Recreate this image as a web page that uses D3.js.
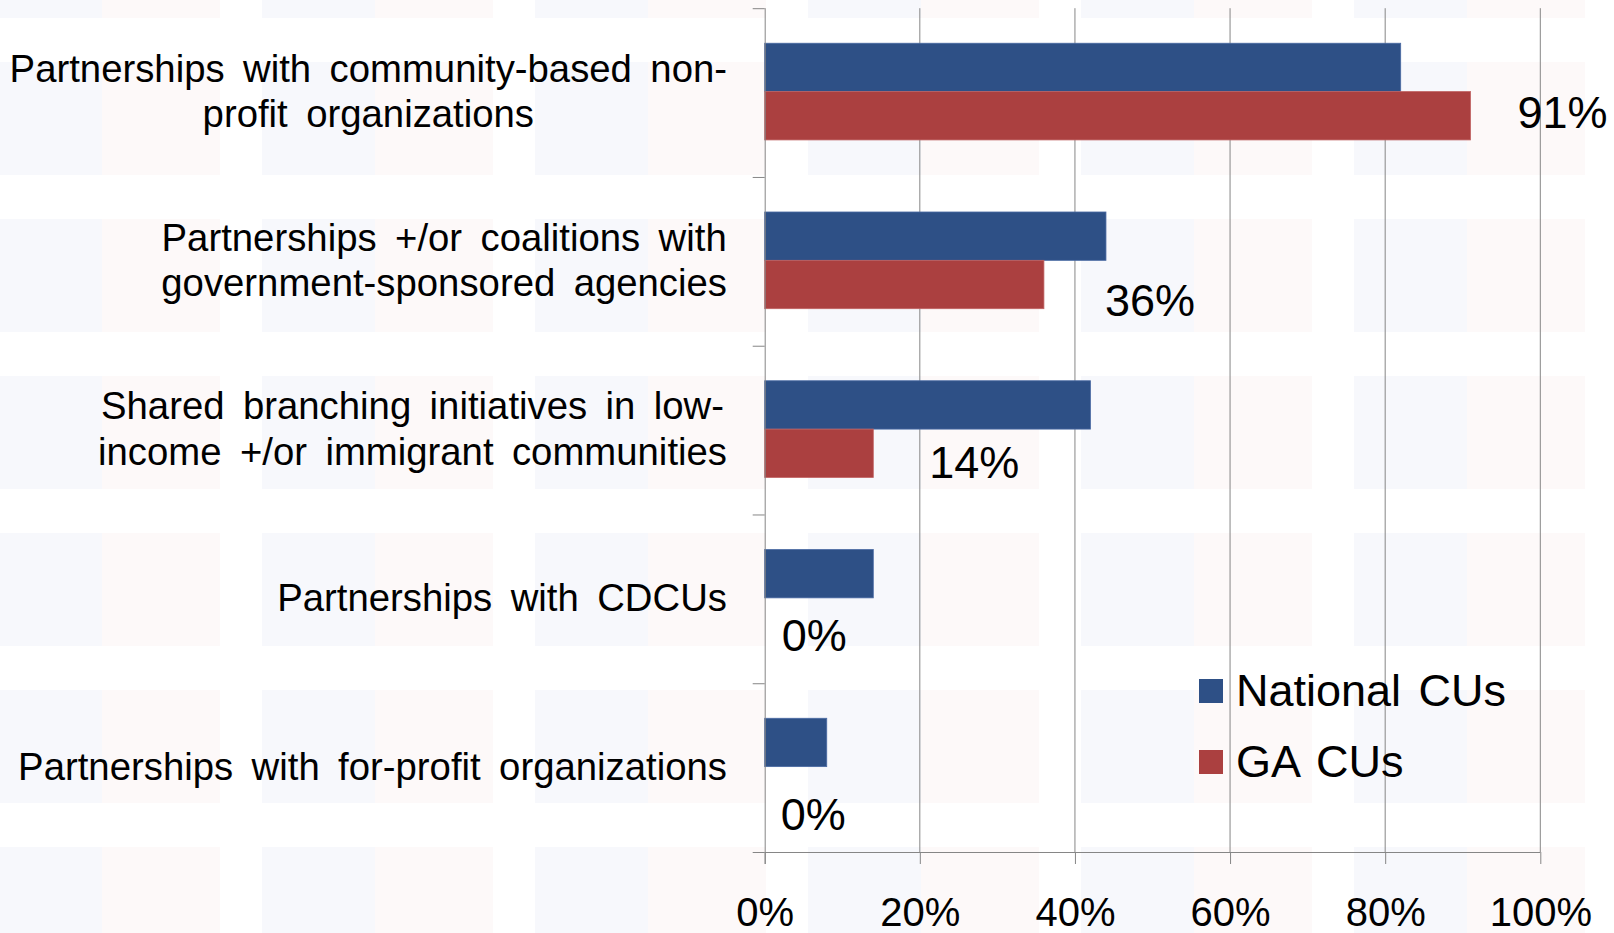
<!DOCTYPE html>
<html>
<head>
<meta charset="utf-8">
<script src="https://cdn.jsdelivr.net/npm/d3@7"></script>
<style>
  html, body { margin: 0; padding: 0; background: #ffffff; }
  svg { display: block; }
  text { font-family: "Liberation Sans", Arial, sans-serif; fill: #000; }
</style>
</head>
<body>
<svg id="chart" width="1614" height="933"></svg>
<script>
// Survey categories (label lines as wrapped on the chart)
const categoryLines = [
  ["Partnerships with community-based non-", "profit organizations"],
  ["Partnerships +/or coalitions with", "government-sponsored agencies"],
  ["Shared branching initiatives in low-", "income +/or immigrant communities"],
  ["Partnerships with CDCUs"],
  ["Partnerships with for-profit organizations"]
];
const categories = categoryLines.map(l => l.join(" "));

// Share of credit unions reporting each activity (%)
const nationalCUs = [82, 44, 42, 14, 8];
const gaCUs = [91, 36, 14, 0, 0];

const seriesNames = ["National CUs", "GA CUs"];
const xTickValues = [0, 20, 40, 60, 80, 100];

// ---- drawing ----
const W = 1614, H = 933;
const colors = { "National CUs": "#2e5086", "GA CUs": "#ab4040" };
const edgeColors = { "National CUs": "#4a6aa3", "GA CUs": "#c06262" };
const axisColor = "#868686";

const svg = d3.select("#chart");

// faint tiled slide backdrop
const defs = svg.append("defs");
const pat = defs.append("pattern")
  .attr("id", "tiles").attr("patternUnits", "userSpaceOnUse")
  .attr("x", -11).attr("y", 62).attr("width", 273).attr("height", 157);
pat.append("rect").attr("x", 0).attr("y", 0).attr("width", 113).attr("height", 113).attr("fill", "#f7f8fc");
pat.append("rect").attr("x", 113).attr("y", 0).attr("width", 118).attr("height", 113).attr("fill", "#fdf9f9");
svg.append("rect").attr("width", W).attr("height", H).attr("fill", "url(#tiles)");

const plot = { left: 764.7, right: 1540.3, top: 8.2, bottom: 852 };

const x = d3.scaleLinear().domain([0, 100]).range([plot.left, plot.right]);
const y = d3.scaleBand().domain(categories)
  .range([plot.top, plot.bottom])
  .paddingInner(0.427).paddingOuter(0.2135);
const ySub = d3.scaleBand().domain(seriesNames).range([0, y.bandwidth()]);
const yEdge = d3.scaleLinear().domain([0, categories.length]).range([plot.top, plot.bottom]);

// vertical gridlines
svg.append("g").selectAll("line")
  .data(xTickValues.filter(v => v > 0))
  .join("line")
  .attr("x1", d => x(d)).attr("x2", d => x(d))
  .attr("y1", plot.top).attr("y2", plot.bottom)
  .attr("stroke", axisColor).attr("stroke-width", 1);

// bars
const rows = categories.map((c, i) => ({
  cat: c,
  values: [
    { series: "National CUs", value: nationalCUs[i] },
    { series: "GA CUs", value: gaCUs[i] }
  ]
}));

const groups = svg.append("g").selectAll("g")
  .data(rows).join("g")
  .attr("transform", d => `translate(0,${y(d.cat) - 1})`);

groups.selectAll("rect")
  .data(d => d.values.filter(v => v.value > 0)).join("rect")
  .attr("x", x(0))
  .attr("y", d => ySub(d.series))
  .attr("width", d => x(d.value) - x(0))
  .attr("height", ySub.bandwidth())
  .attr("fill", d => colors[d.series])
  .attr("stroke", d => edgeColors[d.series])
  .attr("stroke-width", 0.8);

// x axis
const xAxis = d3.axisBottom(x)
  .tickValues(xTickValues)
  .tickFormat(d => d + "%")
  .tickSize(12)
  .tickPadding(34);
const gx = svg.append("g")
  .attr("transform", `translate(0,${plot.bottom})`)
  .call(xAxis);
gx.select(".domain").attr("stroke", axisColor).attr("d", `M${plot.left},0.5H${plot.right}`);
gx.selectAll(".tick line").attr("stroke", axisColor);
gx.selectAll(".tick text")
  .attr("font-size", 40)
  .attr("font-family", "Liberation Sans, Arial, sans-serif")
  .attr("fill", "#000");

// category axis (ticks at band edges)
const yAxis = d3.axisLeft(yEdge)
  .tickValues(d3.range(categories.length + 1))
  .tickFormat("")
  .tickSize(12);
const gy = svg.append("g")
  .attr("transform", `translate(${plot.left},0)`)
  .call(yAxis);
gy.select(".domain").attr("stroke", axisColor).attr("d", `M0.5,${plot.top}V${plot.bottom + 12}`);
gy.selectAll(".tick line").attr("stroke", axisColor);

// category labels: lines centred within a block right-aligned to the axis,
// set in a slightly narrowed face
const labelRight = 727;
const narrow = 0.97;
const lineH = 45.5;
const catG = svg.append("g");
categoryLines.forEach((lines, i) => {
  const cy = y(categories[i]) + y.bandwidth() / 2 - 1;
  const t = catG.append("text")
    .attr("transform", `translate(${labelRight},0) scale(${narrow},1)`)
    .attr("font-size", 39.5)
    .attr("word-spacing", 8)
    .attr("text-anchor", "middle");
  const spans = lines.map((ln, j) => t.append("tspan")
    .attr("y", cy - (lines.length - 1) * lineH / 2 + j * lineH + 13)
    .text(ln));
  const blockW = d3.max(spans, s => s.node().getComputedTextLength());
  spans.forEach(s => s.attr("x", -blockW / 2));
});

// value labels for GA CUs
const labelNudge = [[47, 12.5], [61, 31], [56, 25], [17, 29], [16, 39]];
svg.append("g").selectAll("text")
  .data(gaCUs).join("text")
  .attr("x", (d, i) => x(d) + labelNudge[i][0])
  .attr("y", (d, i) => y(categories[i]) - 1 + ySub("GA CUs") + ySub.bandwidth() / 2 + labelNudge[i][1])
  .attr("font-size", 45)
  .text(d => d + "%");

// legend
const legend = svg.append("g").attr("transform", "translate(1199,679)");
const li = legend.selectAll("g").data(seriesNames).join("g")
  .attr("transform", (d, i) => `translate(0,${i * 71})`);
li.append("rect").attr("width", 24).attr("height", 24).attr("fill", d => colors[d]);
li.append("text").attr("x", 37).attr("y", 27)
  .attr("font-size", 45).attr("word-spacing", 5)
  .text(d => d);
</script>
</body>
</html>
